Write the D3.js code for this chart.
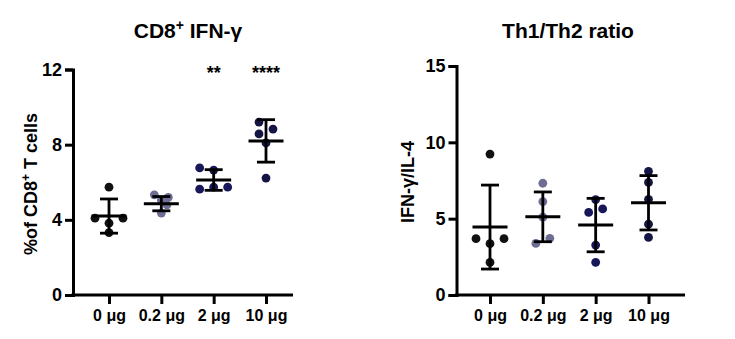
<!DOCTYPE html>
<html>
<head>
<meta charset="utf-8">
<script src="https://cdn.jsdelivr.net/npm/d3@7"></script>
<style>
  body { margin: 0; background: #fff; }
  svg { display: block; font-family: "Liberation Sans", Arial, sans-serif; font-weight: bold; }
</style>
</head>
<body>
<svg id="chart" width="735" height="339"></svg>
<script>
const doses = ["0 \u03bcg", "0.2 \u03bcg", "2 \u03bcg", "10 \u03bcg"]
const groupColors = ["#111111", "#6e6e94", "#17175a", "#141445"]

// CD8+ IFN-γ, % of CD8+ T cells
const cd8Values = [
  [5.74, 4.09, 4.09, 3.82, 3.32],
  [5.33, 5.2, 5.05, 4.8, 4.36],
  [6.76, 6.65, 5.63, 5.74, 5.74],
  [9.2, 8.83, 8.57, 8.09, 6.22]
]
const cd8Dodge = [
  [0, -1, 1, 0, 0],
  [-0.5, 0.5, 0, 0.4, 0],
  [-1, 0, -1, 0, 1],
  [-0.5, 0.5, -0.5, 0, 0]
]
const cd8Mean = [4.2, 4.86, 6.12, 8.2]
const cd8Sd = [0.91, 0.38, 0.55, 1.13]
const cd8Ticks = [0, 4, 8, 12]
const cd8Stars = ["", "", "**", "****"]

// Th1/Th2 ratio, IFN-γ/IL-4
const ratioValues = [
  [9.23, 3.69, 3.69, 3.36, 2.13],
  [7.32, 6.12, 5.1, 3.38, 3.71],
  [6.25, 5.41, 5.64, 3.27, 2.14],
  [8.1, 7.37, 6.27, 4.64, 3.77]
]
const ratioDodge = [
  [0, -1, 1, 0, 0],
  [0, 0, 0, -0.5, 0.5],
  [0, -0.5, 0.5, 0, 0],
  [0, 0, 0, 0, 0]
]
const ratioMean = [4.45, 5.12, 4.58, 6.04]
const ratioSd = [2.75, 1.63, 1.75, 1.78]
const ratioTicks = [0, 5, 10, 15]

const svg = d3.select("#chart")

function drawPanel(p) {
  const g = svg.append("g")

  const x = d3.scalePoint().domain(doses).range([p.firstTick, p.lastTick])
  const y = d3.scaleLinear().domain([0, p.yMax]).range([p.bottom, p.top])
  const dodgeStep = 14

  // x axis: ticks from d3, baseline drawn across the full plot width
  const xAxis = g.append("g")
    .attr("transform", "translate(0," + p.bottom + ")")
    .call(d3.axisBottom(x).tickSize(9).tickPadding(6))
  xAxis.select(".domain").remove()
  xAxis.selectAll("line").attr("stroke", "#000").attr("stroke-width", 3)
  xAxis.selectAll("text").attr("fill", "#000").style("font-size", "16px").style("font-weight", "bold")

  g.append("line")
    .attr("x1", p.left - 1.5).attr("x2", p.right)
    .attr("y1", p.bottom).attr("y2", p.bottom)
    .attr("stroke", "#000").attr("stroke-width", 3)

  const yAxis = g.append("g")
    .attr("transform", "translate(" + p.left + ",0)")
    .call(d3.axisLeft(y).tickValues(p.ticks).tickSize(8).tickPadding(3))
  yAxis.select(".domain").attr("stroke", "#000").attr("stroke-width", 3)
  yAxis.selectAll("line").attr("stroke", "#000").attr("stroke-width", 3)
  yAxis.selectAll("text").attr("fill", "#000").style("font-size", "18px").style("font-weight", "bold")

  // points
  p.values.forEach((vals, i) => {
    g.selectAll(null)
      .data(vals)
      .enter().append("circle")
      .attr("cx", (d, j) => x(doses[i]) + p.dodge[i][j] * dodgeStep)
      .attr("cy", d => y(d))
      .attr("r", 4.4)
      .attr("fill", groupColors[i])
  })

  // mean ± SD
  const bars = g.selectAll(".bar")
    .data(doses)
    .enter().append("g")
    .attr("class", "bar")
    .attr("stroke", "#000")
    .attr("stroke-width", 2.8)

  bars.append("line")
    .attr("x1", d => x(d)).attr("x2", d => x(d))
    .attr("y1", (d, i) => y(p.mean[i] + p.sd[i]))
    .attr("y2", (d, i) => y(p.mean[i] - p.sd[i]))
  bars.append("line")
    .attr("x1", d => x(d) - 9).attr("x2", d => x(d) + 9)
    .attr("y1", (d, i) => y(p.mean[i] + p.sd[i]))
    .attr("y2", (d, i) => y(p.mean[i] + p.sd[i]))
  bars.append("line")
    .attr("x1", d => x(d) - 9).attr("x2", d => x(d) + 9)
    .attr("y1", (d, i) => y(p.mean[i] - p.sd[i]))
    .attr("y2", (d, i) => y(p.mean[i] - p.sd[i]))
  bars.append("line")
    .attr("stroke-width", 3)
    .attr("x1", d => x(d) - 17.5).attr("x2", d => x(d) + 17.5)
    .attr("y1", (d, i) => y(p.mean[i]))
    .attr("y2", (d, i) => y(p.mean[i]))

  if (p.stars) {
    g.selectAll(".star")
      .data(p.stars)
      .enter().append("text")
      .attr("x", (d, i) => x(doses[i]))
      .attr("y", y(p.yMax) + 9)
      .attr("text-anchor", "middle")
      .style("font-size", "18px")
      .text(d => d)
  }

  // title
  const title = g.append("text")
    .attr("x", p.titleX).attr("y", 38)
    .attr("text-anchor", "middle")
    .style("font-size", "21px")
  p.title.forEach(part => {
    title.append("tspan")
      .attr("baseline-shift", part.sup ? "super" : null)
      .style("font-size", part.sup ? "14px" : null)
      .text(part.t)
  })

  // y label
  const ylab = g.append("text")
    .attr("transform", "translate(" + p.labelX + "," + p.labelY + ") rotate(-90)")
    .attr("text-anchor", "middle")
    .style("font-size", "18px")
  p.yLabel.forEach(part => {
    ylab.append("tspan")
      .attr("baseline-shift", part.sup ? "super" : null)
      .style("font-size", part.sup ? "12px" : null)
      .text(part.t)
  })
}

drawPanel({
  values: cd8Values, dodge: cd8Dodge, mean: cd8Mean, sd: cd8Sd,
  ticks: cd8Ticks, yMax: 12, stars: cd8Stars,
  left: 73, right: 293, top: 69.5, bottom: 295, firstTick: 109, lastTick: 266,
  title: [{t: "CD8"}, {t: "+", sup: true}, {t: " IFN-\u03b3"}], titleX: 188,
  yLabel: [{t: "%of CD8"}, {t: "+", sup: true}, {t: " T cells"}], labelX: 37, labelY: 184
})

drawPanel({
  values: ratioValues, dodge: ratioDodge, mean: ratioMean, sd: ratioSd,
  ticks: ratioTicks, yMax: 15, stars: null,
  left: 456.5, right: 685, top: 66, bottom: 295, firstTick: 490, lastTick: 648.5,
  title: [{t: "Th1/Th2 ratio"}], titleX: 568,
  yLabel: [{t: "IFN-\u03b3/IL-4"}], labelX: 414, labelY: 182
})
</script>
</body>
</html>
